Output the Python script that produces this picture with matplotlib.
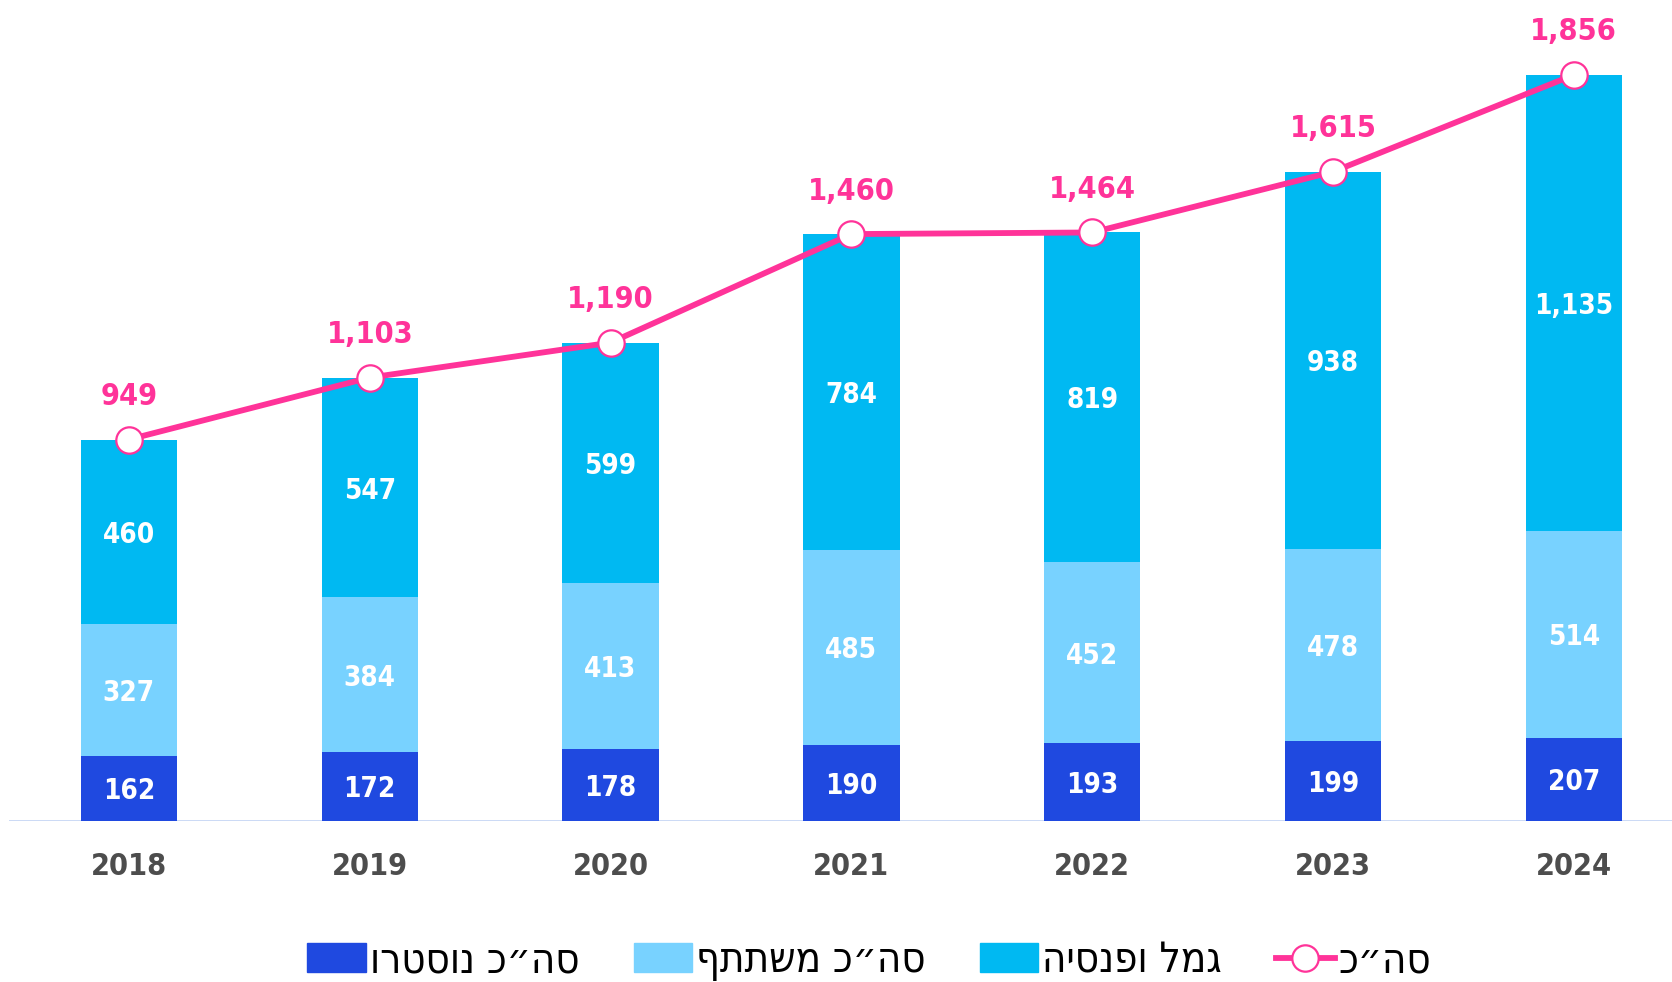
import matplotlib
matplotlib.use('Agg')
import matplotlib.pyplot as plt
from matplotlib.lines import Line2D
from matplotlib.patches import Patch
import numpy as np

# ── data ─────────────────────────────────────────────────────────────────────
years       = ['2018', '2019', '2020', '2021', '2022', '2023', '2024']
nostro      = [162, 172, 178, 190, 193, 199, 207]
participant = [327, 384, 413, 485, 452, 478, 514]
gemel       = [460, 547, 599, 784, 819, 938, 1135]
total       = [949, 1103, 1190, 1460, 1464, 1615, 1856]

# legend labels (logical order; reversed for display since matplotlib has no bidi)
lbl_nostro = 'סה״כ נוסטרו'
lbl_part   = 'סה״כ משתתף'
lbl_gemel  = 'גמל ופנסיה'
lbl_total  = 'סה״כ'

# ── style ────────────────────────────────────────────────────────────────────
C_DARK  = '#1F49E0'
C_LIGHT = '#78D2FF'
C_MID   = '#00B9F2'
C_PINK  = '#FF3399'
C_AXIS  = '#C6D6F4'
C_YEAR  = '#4D4D4D'

FONT = ['DejaVu Sans']
plt.rcParams['font.family'] = FONT


def rtl(s):
    return s[::-1]


fig = plt.figure(figsize=(16.72, 9.82), dpi=100)
ax = fig.add_axes([8.5 / 1672, 161 / 982, 1 - 8.5 / 1672, 1 - 161 / 982])

x = np.arange(len(years))
w = 0.4

ax.bar(x, nostro, w, color=C_DARK, zorder=2)
ax.bar(x, participant, w, bottom=nostro, color=C_LIGHT, zorder=2)
bot2 = np.array(nostro) + np.array(participant)
ax.bar(x, gemel, w, bottom=bot2, color=C_MID, zorder=2)

# segment labels
for i in range(len(years)):
    segs = [(0, nostro[i]), (nostro[i], participant[i]), (bot2[i], gemel[i])]
    for b, v in segs:
        ax.text(x[i], b + v / 2, f'{v:,}', ha='center', va='center_baseline',
                color='white', fontsize=20, fontstretch='condensed',
                fontweight='bold', zorder=4)

# total line
ax.plot(x, total, color=C_PINK, lw=4.2, marker='o', ms=19,
        mfc='white', mec=C_PINK, mew=1.6, zorder=3)
for i, t in enumerate(total):
    ax.annotate(f'{t:,}', (x[i], t), xytext=(0, 31), textcoords='offset points',
                ha='center', va='center', color=C_PINK, fontsize=22,
                fontstretch='condensed', fontweight='bold', zorder=4)

ax.set_xlim(-0.5, (1672 - 129) / 240.8)
ax.set_ylim(0, 821 / 0.402)
ax.axhline(0, color=C_AXIS, lw=2, zorder=1)
for s in ax.spines.values():
    s.set_visible(False)
ax.set_yticks([])
ax.set_xticks(x)
ax.set_xticklabels(years, color=C_YEAR, fontsize=22, fontweight='bold',
                   fontstretch='condensed')
ax.tick_params(axis='x', length=0, pad=22)

handles = [
    Patch(color=C_DARK),
    Patch(color=C_LIGHT),
    Patch(color=C_MID),
    Line2D([], [], color=C_PINK, lw=4.2, marker='o', ms=19,
           mfc='white', mec=C_PINK, mew=1.6),
]
labels = [rtl(lbl_nostro), rtl(lbl_part), rtl(lbl_gemel), rtl(lbl_total)]
fig.legend(handles, labels, loc='center', bbox_to_anchor=(0.52, 0.022), ncol=4,
           frameon=False, handlelength=1.4, handleheight=0.7,
           handletextpad=0.1, columnspacing=1.3,
           prop=dict(family=FONT, size=30, stretch='condensed'))

fig.savefig('out.png', dpi=100)
